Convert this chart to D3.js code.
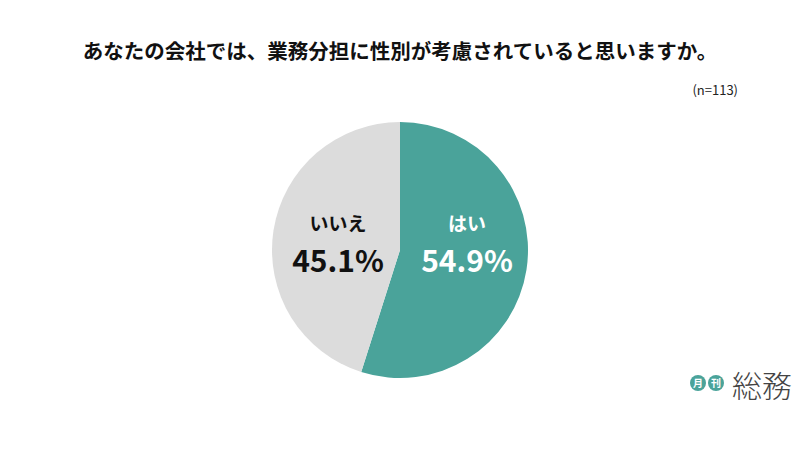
<!DOCTYPE html><html><head><meta charset="utf-8"><script src="https://cdn.jsdelivr.net/npm/d3@7"></script>
<style>body{margin:0;background:#fff}text{font-family:"Noto Sans CJK JP",sans-serif}</style></head><body><svg width="800" height="450"></svg>
<script>
const categories=["はい","いいえ"];
const values=[54.9,45.1];
const colors=["#4aa39a","#dcdcdc"];
const svg=d3.select("svg");
svg.append("text").attr("x",400).attr("y",59).attr("text-anchor","middle").attr("font-size",20.5).attr("font-weight",700).attr("fill","#111").text("あなたの会社では、業務分担に性別が考慮されていると思いますか。");
svg.append("text").attr("x",738).attr("y",95).attr("text-anchor","end").attr("font-size",13).attr("fill","#222").text("(n=113)");
const pie=d3.pie().sort(null).value(d=>d)(values);
const arc=d3.arc().innerRadius(0).outerRadius(128);
const g=svg.append("g").attr("transform","translate(400,250)");
g.selectAll("path").data(pie).join("path").attr("d",arc).attr("fill",(d,i)=>colors[i]);
const lab=[{x:67,c:"#fff"},{x:-62,c:"#111"}];
pie.forEach((d,i)=>{
 g.append("text").attr("x",lab[i].x).attr("y",-19).attr("text-anchor","middle").attr("font-size",19).attr("font-weight",700).attr("fill",lab[i].c).text(categories[i]);
 g.append("text").attr("x",lab[i].x).attr("y",22).attr("text-anchor","middle").attr("font-size",30).attr("font-weight",700).attr("fill",lab[i].c).text(values[i].toFixed(1)+"%");
});
const lg=svg.append("g");
[["月",698],["刊",716]].forEach(([t,x])=>{lg.append("circle").attr("cx",x).attr("cy",383).attr("r",8).attr("fill","#4aa39a");lg.append("text").attr("x",x).attr("y",387).attr("text-anchor","middle").attr("font-size",10).attr("font-weight",700).attr("fill","#fff").text(t);});
lg.append("text").attr("x",732).attr("y",397).attr("font-size",30).attr("font-weight",300).attr("fill","#444").text("総務");
</script></body></html>
